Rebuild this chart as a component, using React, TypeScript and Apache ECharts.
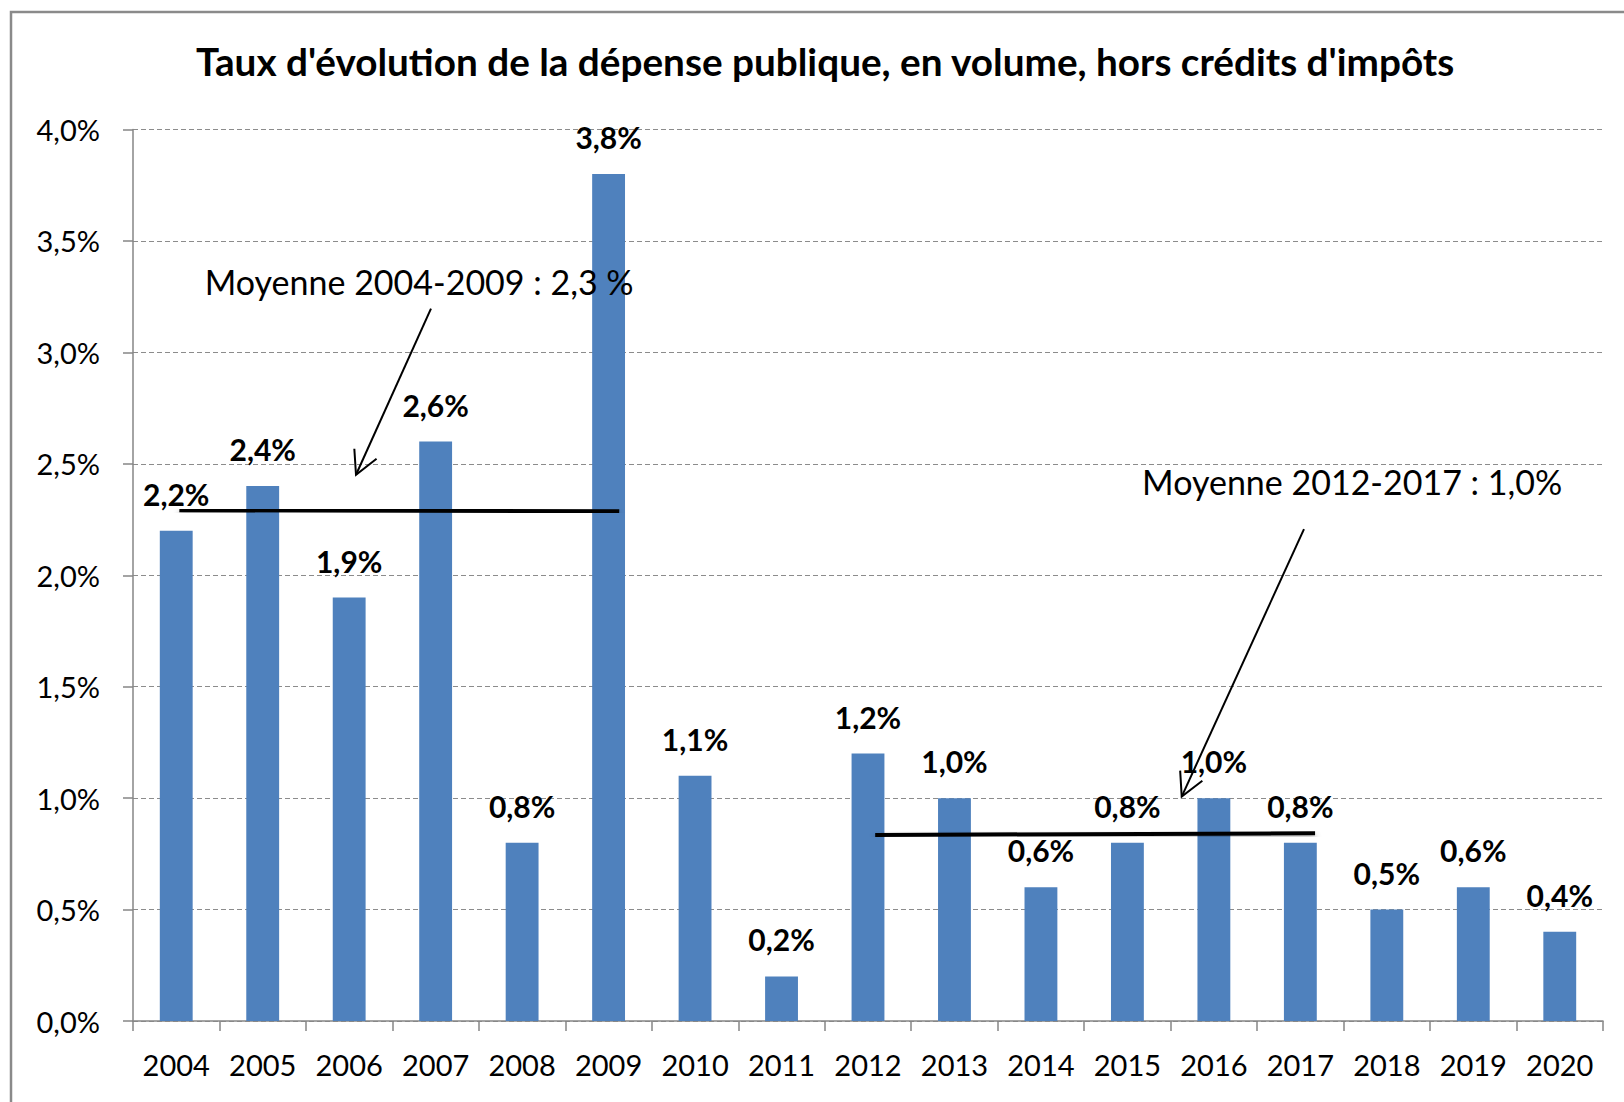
import React, { useEffect, useRef } from "react";
import * as echarts from "echarts";

const years = ["2004","2005","2006","2007","2008","2009","2010","2011","2012","2013","2014","2015","2016","2017","2018","2019","2020"];
const rates = [2.2, 2.4, 1.9, 2.6, 0.8, 3.8, 1.1, 0.2, 1.2, 1.0, 0.6, 0.8, 1.0, 0.8, 0.5, 0.6, 0.4];

// Annotation geometry in data space: [xIndex1, value1, xIndex2, value2]
const avgLines = [
  [0.036, 2.292, 5.123, 2.287],
  [8.083, 0.835, 13.17, 0.842],
];
const arrows = [
  [2.946, 3.196, 2.079, 2.451],
  [13.042, 2.207, 11.628, 1.007],
];
const noteTexts = ["Moyenne 2004-2009 : 2,3 %", "Moyenne 2012-2017 : 1,0%"];
const notePos = [
  [0.33, 3.317],
  [11.17, 2.42],
];

const TITLE = "Taux d'évolution de la dépense publique, en volume, hors crédits d'impôts";
const FONT = "Lato";
const fmt = (v: number) => v.toFixed(1).replace(".", ",") + "%";

export default function App() {
  const ref = useRef<HTMLDivElement>(null);
  useEffect(() => {
    const chart = echarts.init(ref.current!, null, { renderer: "svg" });
    const option: any = {
      animation: false,
      backgroundColor: "#fff",
      title: {
        text: TITLE,
        left: 196,
        top: 41,
        padding: 0,
        textStyle: { fontFamily: FONT, fontWeight: "bold", fontSize: 38.7, color: "#000" },
      },
      graphic: [
        {
          type: "rect",
          shape: { x: 11, y: 12, width: 1640, height: 1120 },
          style: { fill: "none", stroke: "#8a8a8a", lineWidth: 2.5 },
          silent: true,
        },
      ],
      grid: { left: 133, right: 21, top: 129.5, bottom: 81, containLabel: false },
      xAxis: [
        {
          type: "category",
          data: years,
          axisLine: { lineStyle: { color: "#868686", width: 1.5 } },
          axisTick: { show: true, length: 10, lineStyle: { color: "#868686", width: 1.5 } },
          axisLabel: { fontFamily: FONT, fontSize: 29, color: "#000", margin: 29, interval: 0 },
        },
        { type: "value", min: -0.5, max: 16.5, show: false },
      ],
      yAxis: {
        type: "value",
        min: 0,
        max: 4,
        interval: 0.5,
        axisLine: { show: true, onZero: false, lineStyle: { color: "#868686", width: 1.5 } },
        axisTick: { show: true, length: 10, lineStyle: { color: "#868686", width: 1.5 } },
        axisLabel: { fontFamily: FONT, fontSize: 29, color: "#000", margin: 33, formatter: fmt },
        splitLine: { lineStyle: { color: "#8c8c8c", type: [5, 3], width: 1 } },
      },
      series: [
        {
          type: "bar",
          data: rates,
          barWidth: "38%",
          itemStyle: { color: "#4F81BD" },
          label: {
            show: true,
            position: "top",
            distance: 22,
            fontFamily: FONT,
            fontWeight: "bold",
            fontSize: 30,
            color: "#000",
            formatter: (p: any) => fmt(p.value),
          },
          z: 2,
        },
        {
          type: "custom",
          xAxisIndex: 1,
          yAxisIndex: 0,
          silent: true,
          z: 5,
          data: avgLines.map((d) => d),
          renderItem: (params: any, api: any) => {
            const d = avgLines[params.dataIndex];
            const p1 = api.coord([d[0], d[1]]);
            const p2 = api.coord([d[2], d[3]]);
            return {
              type: "line",
              shape: { x1: p1[0], y1: p1[1], x2: p2[0], y2: p2[1] },
              style: {
                stroke: "#000",
                lineWidth: 4,
                shadowBlur: 6,
                shadowColor: "rgba(0,0,0,0.4)",
                shadowOffsetY: 4,
              },
            };
          },
        },
        {
          type: "custom",
          xAxisIndex: 1,
          yAxisIndex: 0,
          silent: true,
          z: 6,
          data: arrows.map((d) => d),
          renderItem: (params: any, api: any) => {
            const d = arrows[params.dataIndex];
            const s = api.coord([d[0], d[1]]);
            const t = api.coord([d[2], d[3]]);
            const dx = t[0] - s[0];
            const dy = t[1] - s[1];
            const len = Math.sqrt(dx * dx + dy * dy);
            const ux = dx / len;
            const uy = dy / len;
            const hl = 26;
            const ang = (28 * Math.PI) / 180;
            const rot = (a: number) => [
              ux * Math.cos(a) - uy * Math.sin(a),
              ux * Math.sin(a) + uy * Math.cos(a),
            ];
            const r1 = rot(ang);
            const r2 = rot(-ang);
            return {
              type: "group",
              children: [
                {
                  type: "line",
                  shape: { x1: s[0], y1: s[1], x2: t[0], y2: t[1] },
                  style: { stroke: "#000", lineWidth: 2 },
                },
                {
                  type: "polyline",
                  shape: {
                    points: [
                      [t[0] - r1[0] * hl, t[1] - r1[1] * hl],
                      [t[0], t[1]],
                      [t[0] - r2[0] * hl, t[1] - r2[1] * hl],
                    ],
                  },
                  style: { stroke: "#000", lineWidth: 2, fill: "none" },
                },
              ],
            };
          },
        },
        {
          type: "custom",
          xAxisIndex: 1,
          yAxisIndex: 0,
          silent: true,
          z: 7,
          data: notePos.map((d) => d),
          renderItem: (params: any, api: any) => {
            const d = notePos[params.dataIndex];
            const p = api.coord([d[0], d[1]]);
            return {
              type: "text",
              x: p[0],
              y: p[1],
              style: {
                text: noteTexts[params.dataIndex],
                fill: "#000",
                font: `34px ${FONT}`,
                align: "left",
                verticalAlign: "middle",
                textAlign: "left",
                textVerticalAlign: "middle",
              },
            };
          },
        },
      ],
    };
    chart.setOption(option);
    return () => chart.dispose();
  }, []);
  return (
    <div
      ref={ref}
      style={{ position: "fixed", left: 0, top: 0, width: 1624, height: 1102, background: "#fff" }}
    />
  );
}
